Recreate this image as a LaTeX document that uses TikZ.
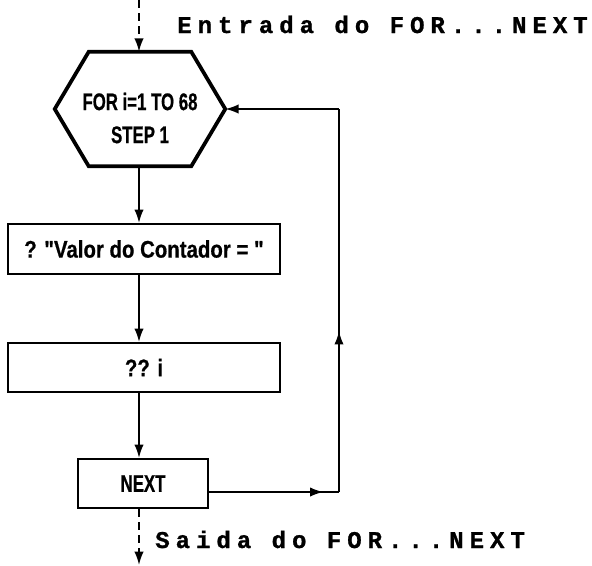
\documentclass[tikz,border=0pt]{standalone}
\usepackage{fontspec}
\setmainfont{Liberation Sans}
\newfontfamily\flowfont[FakeStretch=0.85,BoldFeatures={FakeBold=0.6}]{Liberation Sans}
\newfontfamily\narrowfont[FakeStretch=0.7,BoldFeatures={FakeBold=0.6}]{Liberation Sans}
\newfontfamily\notefont[LetterSpace=25,BoldFeatures={FakeBold=1}]{Liberation Mono}
\usetikzlibrary{arrows.meta,positioning,decorations.markings}

\begin{document}
\begin{tikzpicture}[x=0.75pt,y=-0.75pt,
  flow/.style={line width=1.3pt,-{Latex[length=10pt,width=7pt]}},
  dashflow/.style={flow,dash pattern=on 6pt off 3.75pt},
  plainline/.style={line width=1.3pt},
  midtip/.style={postaction=decorate,decoration={markings,
    mark=at position #1 with {\arrow{Latex[length=10pt,width=7pt]}}}},
  stepbox/.style={draw,line width=1.6pt,inner sep=0pt,
    font=\flowfont\bfseries\fontsize{18}{24.75}\selectfont},
  hexframe/.style={draw=none,inner sep=0pt,minimum width=76.5pt,minimum height=85.5pt},
  boxtext/.style={align=center,inner sep=0pt,
    font=\narrowfont\bfseries\fontsize{18}{24.75}\selectfont},
  note/.style={anchor=base west,inner sep=0pt,
    font=\notefont\bfseries\fontsize{18}{20}\selectfont}]
\useasboundingbox (0,0) rectangle (592,565);

% loop header
\node[hexframe] (for) at (140,109) {};
\coordinate (forE) at ([xshift=25.5pt]for.east);
\coordinate (forW) at ([xshift=-25.5pt]for.west);
\draw[line width=2.8pt,line join=miter] (for.north west) -- (for.north east) -- (forE)
  -- (for.south east) -- (for.south west) -- (forW) -- cycle;
\node[boxtext] (forTxt) at (140,118) {FOR i=1 TO 68\\STEP 1};

% body
\node[stepbox,minimum width=204pt,minimum height=37.5pt] (show) at (144,249) {? "Valor do Contador = "};
\node[stepbox,minimum width=204pt,minimum height=36.75pt] (print) at (144,367.5) {?? i};
\node[stepbox,minimum width=97.5pt,minimum height=36.75pt,font=\narrowfont\bfseries\fontsize{18}{24.75}\selectfont] (next) at (143,483.5) {NEXT};

% entry / exit
\coordinate (in) at (139,0);
\coordinate (out) at (139,565);
\draw[dashflow] (in) -- (in |- for.north);
\draw[dashflow] (out |- next.south) -- (out);
\node[note] (entry) at (177,33) {Entrada do FOR...NEXT};
\node[note] (exit) at (155,548) {Saida do FOR...NEXT};

% straight flow
\draw[flow] (in |- for.south) -- (in |- show.north);
\draw[flow] (in |- show.south) -- (in |- print.north);
\draw[flow] (in |- print.south) -- (in |- next.north);

% back to the header
\coordinate (back1) at (339,492);
\coordinate (back2) at (back1 |- forE);
\draw[plainline,midtip=0.88] (next.east |- back1) -- (back1);
\draw[plainline,midtip=0.42] (back1) -- (back2);
\draw[flow] (back2) -- (forE);
\end{tikzpicture}
\end{document}
